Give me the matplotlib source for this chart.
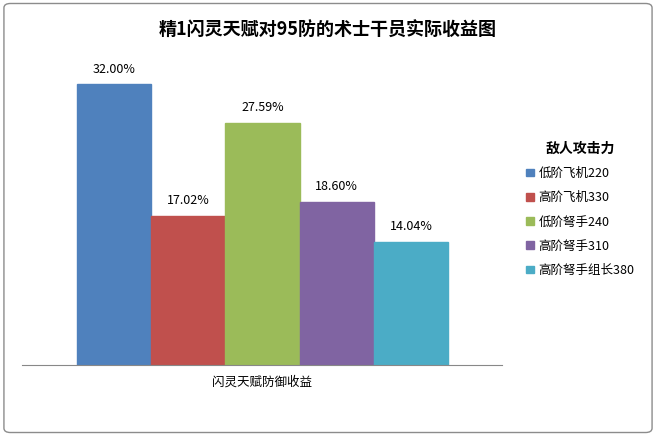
import matplotlib
matplotlib.use("Agg")
import matplotlib.pyplot as plt
from matplotlib.patches import FancyBboxPatch, Patch

plt.rcParams['font.family'] = ['Noto Sans CJK SC', 'DejaVu Sans']

series = ["低阶飞机220", "高阶飞机330", "低阶弩手240", "高阶弩手310", "高阶弩手组长380"]
values = [32.00, 17.02, 27.59, 18.60, 14.04]
colors = ["#4F81BD", "#C0504D", "#9BBB59", "#8064A2", "#4BACC6"]
category = "闪灵天赋防御收益"
title = "精1闪灵天赋对95防的术士干员实际收益图"
legend_title = "敌人攻击力"

fig = plt.figure(figsize=(6.56, 4.36), dpi=100)
fig.patches.append(FancyBboxPatch((0.006, 0.008), 0.988, 0.984, boxstyle="round,pad=0,rounding_size=0.01",
                                  transform=fig.transFigure, fill=False, ec="#8c8c8c", lw=1))
ax = fig.add_axes([22/656, 71/436, 480/656, 307/436])
for i, (v, c) in enumerate(zip(values, colors)):
    ax.bar(i, v, width=1, color=c, edgecolor=c)
    ax.text(i, v + 1.0, f"{v:.2f}%", ha="center", va="bottom", fontsize=9)
ax.set_xlim(-1.241, 5.228)
ax.set_ylim(0, 35)
for s in ["top", "right", "left"]:
    ax.spines[s].set_visible(False)
ax.spines["bottom"].set_color("#888888")
ax.set_yticks([])
ax.set_xticks([2])
ax.set_xticklabels([category], fontsize=9)
ax.tick_params(axis="x", length=0, pad=8)
fig.text(0.5, 0.93, title, ha="center", va="center", fontsize=13, fontweight="bold")
handles = [Patch(color=c) for c in colors]
leg = fig.legend(handles, series, loc="center left", bbox_to_anchor=(0.785, 0.52), frameon=False,
                 title=legend_title, fontsize=9, handlelength=0.6, handleheight=0.6,
                 labelspacing=0.9, handletextpad=0.4)
leg.get_title().set_fontweight("bold")
leg.get_title().set_fontsize(10)
fig.savefig("out.png", dpi=100)
